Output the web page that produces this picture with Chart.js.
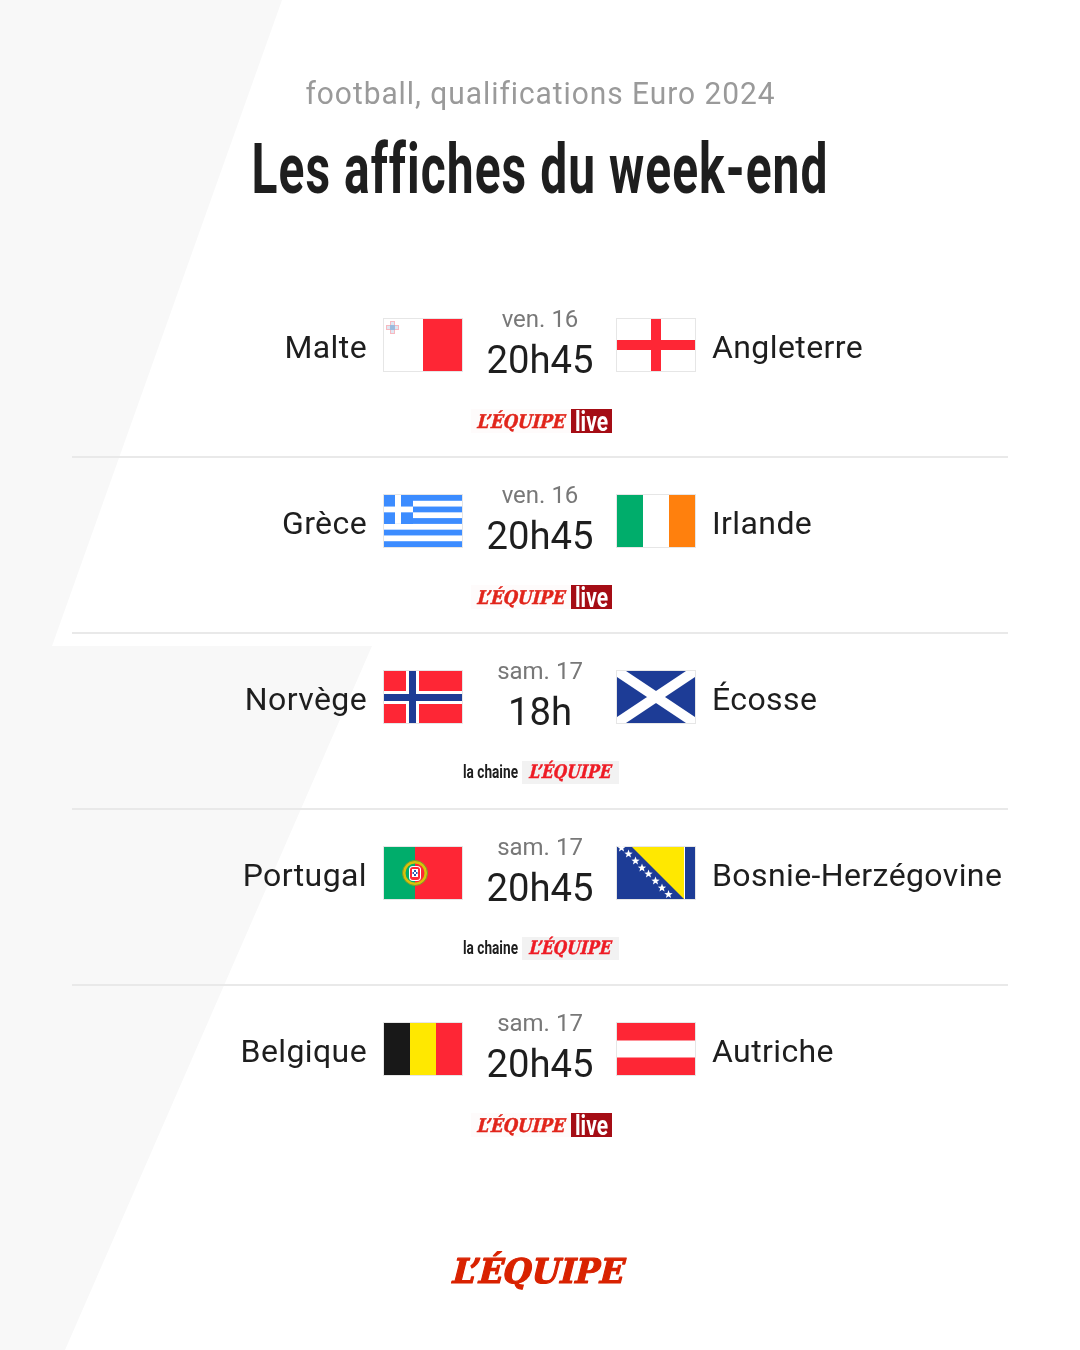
<!DOCTYPE html>
<html lang="fr"><head><meta charset="utf-8"><title>Les affiches du week-end</title>
<style>html,body{margin:0;padding:0;background:#fff}canvas{display:block}</style>
<script src="https://cdn.jsdelivr.net/npm/chart.js@4/dist/chart.umd.min.js"></script>
</head><body><canvas id="c" width="1080" height="1350"></canvas>
<script>
const subtitle = "football, qualifications Euro 2024";
const title = "Les affiches du week-end";
const homeTeams = ["Malte","Grèce","Norvège","Portugal","Belgique"];
const awayTeams = ["Angleterre","Irlande","Écosse","Bosnie-Herzégovine","Autriche"];
const dates = ["ven. 16","ven. 16","sam. 17","sam. 17","sam. 17"];
const times = ["20h45","20h45","18h","20h45","20h45"];
const channels = ["live","live","chaine","chaine","live"];
const homeFlags = ["malta","greece","norway","portugal","belgium"];
const awayFlags = ["england","ireland","scotland","bosnia","austria"];
const matchIndex = [0,1,2,3,4];

const RED="#fe2635",BLUE="#1d3c96",WHITE="#ffffff",EDGE="#e6e6e6",FW=80,FH=54;
function rect(g,c,x,y,w,h){g.fillStyle=c;g.fillRect(x,y,w,h);}
function poly(g,c,p){g.fillStyle=c;g.beginPath();p.forEach((q,i)=>i?g.lineTo(q[0],q[1]):g.moveTo(q[0],q[1]));g.closePath();g.fill();}
function star(g,x,y,r){const p=[];for(let i=0;i<10;i++){const a=-Math.PI/2+i*Math.PI/5,q=i%2?r*.42:r;p.push([x+q*Math.cos(a),y+q*Math.sin(a)]);}poly(g,WHITE,p);}
const painters={
 malta(g){rect(g,RED,40,1,39,52);rect(g,"#f7b9c0",7,3,5,13);rect(g,"#f7b9c0",3,7,13,5);rect(g,"#dfe7f2",8,4,3,11);rect(g,"#dfe7f2",4,8,11,3);rect(g,"#9dbbdd",7,7,5,5);},
 england(g){rect(g,RED,35,1,10,52);rect(g,RED,1,22,78,10);},
 greece(g){const s=52/9;for(let i=0;i<9;i+=2)rect(g,"#3c8cff",1,1+i*s,78,s);rect(g,"#3c8cff",1,1,29,5*s);rect(g,WHITE,1,1+2*s,29,s);rect(g,WHITE,12,1,6,5*s);},
 ireland(g){rect(g,"#00ad6b",1,1,26,52);rect(g,"#ff800d",53,1,26,52);},
 norway(g){rect(g,RED,1,1,78,52);rect(g,WHITE,23,1,13,52);rect(g,WHITE,1,21,78,13);rect(g,BLUE,26,1,7,52);rect(g,BLUE,1,24,78,7);},
 scotland(g){rect(g,BLUE,1,1,78,52);g.save();g.beginPath();g.rect(1,1,78,52);g.clip();g.strokeStyle=WHITE;g.lineWidth=10;g.beginPath();g.moveTo(1,1);g.lineTo(79,53);g.moveTo(79,1);g.lineTo(1,53);g.stroke();g.restore();},
 portugal(g){rect(g,RED,1,1,78,52);rect(g,"#00ad6b",1,1,31,52);g.strokeStyle="#d8c20a";g.lineWidth=3;g.beginPath();g.arc(32,27,11,0,7);g.stroke();g.strokeStyle="#7d9a2c";g.lineWidth=1;g.beginPath();g.arc(32,27,12.5,0,7);g.stroke();
  g.fillStyle=WHITE;g.beginPath();g.roundRect(26,20,12,15,4);g.fill();g.fillStyle=RED;g.beginPath();g.roundRect(27,21,10,13,3);g.fill();rect(g,WHITE,29,23,6,8);rect(g,"#2a55b0",31,24,2,2);rect(g,"#2a55b0",31,28,2,2);rect(g,"#2a55b0",29.5,26,1.5,2);rect(g,"#2a55b0",33,26,1.5,2);},
 bosnia(g){rect(g,BLUE,1,1,78,52);poly(g,"#ffe800",[[16,1],[68,1],[68,53]]);rect(g,WHITE,68,1,1,52);[[5,2],[12,8],[19,15],[25.5,22],[32,28],[39,35],[45.5,42],[52,48.5]].forEach(p=>star(g,p[0]+.5,p[1],4.4));},
 belgium(g){rect(g,"#181818",1,1,26,52);rect(g,"#ffe800",27,1,26,52);rect(g,RED,53,1,26,52);},
 austria(g){rect(g,RED,1,1,78,17.5);rect(g,RED,1,35.5,78,17.5);}
};
function makeFlag(name){const c=document.createElement("canvas");c.width=FW;c.height=FH;const g=c.getContext("2d");rect(g,EDGE,0,0,FW,FH);rect(g,WHITE,1,1,FW-2,FH-2);g.save();painters[name](g);g.restore();return c;}

function put(ctx,txt,x,y,o){ctx.save();ctx.font=o.font;ctx.fillStyle=o.color;ctx.textBaseline="alphabetic";ctx.letterSpacing=o.ls||"0px";ctx.textAlign="left";
 const w=ctx.measureText(txt).width,sx=o.width?o.width/w:(o.sx||1),tw=w*sx;
 const left=o.align==="right"?x-tw:o.align==="center"?x-tw/2:x;
 ctx.translate(left,y);ctx.transform(sx,0,o.skew?-o.skew:0,1,0,0);ctx.fillText(txt,0,0);
 if(o.stroke){ctx.lineWidth=o.stroke;ctx.strokeStyle=o.color;ctx.lineJoin="round";ctx.strokeText(txt,0,0);}
 ctx.restore();}
const LOGO="L’ÉQUIPE",LOGOFONT='bold {s}px "DejaVu Serif"',BODY='{w} {s}px Roboto';
const f=(t,s,w)=>t.replace("{s}",s).replace("{w}",w||400);

const background={id:"background",beforeDatasetsDraw(ch){const c=ch.ctx;
 poly(c,"#f8f8f8",[[0,0],[282,0],[52,646],[0,646]]);
 poly(c,"#f8f8f8",[[0,646],[372,646],[65,1350],[0,1350]]);
 const y=ch.scales.y;c.fillStyle="#e9e9e9";
 matchIndex.slice(0,-1).forEach(i=>{c.fillRect(72,Math.round(y.getPixelForValue(i))+111,936,2);});
}};
const labels={id:"labels",afterDatasetsDraw(ch){const c=ch.ctx,xs=ch.scales.x,ys=ch.scales.y;
 put(c,subtitle,540.5,104,{font:f(BODY,31),color:"#9a9a9a",align:"center",width:470,ls:"1px"});
 put(c,title,540,193,{font:f(BODY,70,700),color:"#1e1e1e",align:"center",width:577,ls:"1.5px"});
 matchIndex.forEach(i=>{const cy=ys.getPixelForValue(i),lx=xs.getPixelForValue(-1)-56,rx=xs.getPixelForValue(1)+56,mx=540;
  put(c,homeTeams[i],lx,cy+13,{font:f(BODY,32),color:"#1e1e1e",align:"right",ls:"0.4px"});
  put(c,awayTeams[i],rx,cy+13,{font:f(BODY,32),color:"#1e1e1e",ls:"0.4px"});
  put(c,dates[i],mx,cy-18,{font:f(BODY,24),color:"#787878",align:"center"});
  put(c,times[i],mx,cy+28,{font:f(BODY,39),color:"#1e1e1e",align:"center",sx:.98});
  if(channels[i]==="live"){
   rect(c,"#fefbfb",471,cy+64,100,24);rect(c,"#a50d15",571,cy+64,41,24);
   put(c,LOGO,476,cy+83,{font:f(LOGOFONT,19),color:"#e1251b",width:88,skew:.25,stroke:.5});
   put(c,"live",575,cy+86,{font:f(BODY,27,700),color:"#ffffff",width:33});
  }else{
   put(c,"la chaine",463,cy+81,{font:f(BODY,18,700),color:"#1e1e1e",width:55});
   rect(c,"#f2f2f2",522,cy+64,97,23);
   put(c,LOGO,528,cy+81,{font:f(LOGOFONT,18.5),color:"#ee1c25",width:82,skew:.25,stroke:.5});
  }
 });
 put(c,LOGO,450,1283,{font:f(LOGOFONT,34),color:"#d92200",width:172,skew:.25,stroke:1.2});
}};
new Chart(document.getElementById("c"),{type:"scatter",
 data:{datasets:[
  {label:"Domicile",data:matchIndex.map(i=>({x:-1,y:i})),pointStyle:homeFlags.map(makeFlag)},
  {label:"Extérieur",data:matchIndex.map(i=>({x:1,y:i})),pointStyle:awayFlags.map(makeFlag)}
 ]},
 options:{responsive:false,animation:false,devicePixelRatio:1,layout:{padding:0,autoPadding:false},
  plugins:{legend:{display:false},tooltip:{enabled:false},title:{display:false}},
  scales:{
   x:{type:"linear",display:false,bounds:"data",min:-539.5/116.5,max:540.5/116.5},
   y:{type:"linear",display:false,bounds:"data",reverse:true,min:-345/176,max:1005/176}
  }},
 plugins:[background,labels]});
</script></body></html>
